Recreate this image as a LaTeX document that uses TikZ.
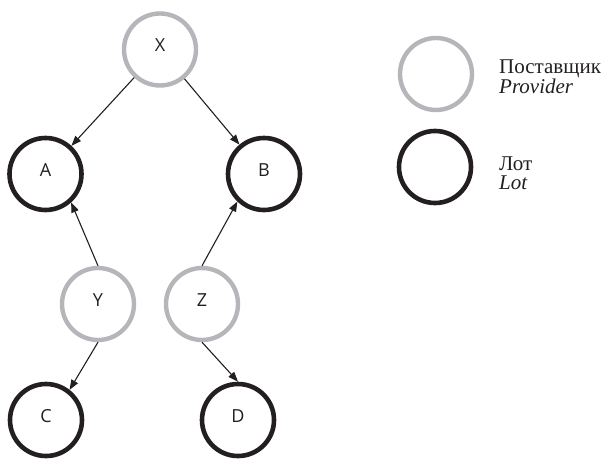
\documentclass[tikz,border=0pt]{standalone}
\usepackage{fontspec}
\setmainfont{Liberation Serif}
\newfontfamily\lblfont{Open Sans}
\usetikzlibrary{arrows.meta}
\definecolor{ringgray}{RGB}{180,182,186}
\definecolor{ringblack}{RGB}{35,31,32}
\begin{document}
\begin{tikzpicture}[x=1pt,y=1pt,
  prov/.style={circle,draw=ringgray,line width=4.4pt,minimum size=72pt,inner sep=0pt},
  lotc/.style={circle,draw=ringblack,line width=4.6pt,minimum size=72pt,inner sep=0pt},
  lbl/.style={font=\lblfont\fontsize{18}{21}\selectfont,text=ringblack,yshift=4pt,inner sep=0pt},
  arr/.style={draw=ringblack,line width=1.1pt,-{Triangle[length=10pt,width=7.5pt]}},
  legtxt/.style={font=\fontsize{21}{24}\selectfont,text=ringblack,anchor=base west,inner sep=0pt}]
\useasboundingbox (0,0) rectangle (609,458);
\node[prov,label={[lbl]center:X}] (X) at (160,408.5) {};
\node[lotc,label={[lbl]center:A}] (A) at (45.5,284) {};
\node[lotc,label={[lbl]center:B}] (B) at (264,284) {};
\node[prov,label={[lbl]center:Y}] (Y) at (98,154) {};
\node[prov,label={[lbl]center:Z}] (Z) at (202,154) {};
\node[lotc,label={[lbl]center:C}] (C) at (46,38) {};
\node[lotc,label={[lbl]center:D}] (D) at (238,38) {};
\draw[arr] (X) -- (A);
\draw[arr] (X) -- (B);
\draw[arr] (Y.north) -- (A.-48);
\draw[arr] (Z.north) -- (B.-134);
\draw[arr] (Y.south) -- (C.52);
\draw[arr] (Z.south) -- (D.north);
\node[prov] (LP) at (436,384) {};
\node[lotc] (LL) at (435,291) {};
\node[legtxt] (t1) at (499,384) {Поставщик};
\node[legtxt] (t2) at (499,364.5) {\itshape Provider};
\node[legtxt] (t3) at (499,287.5) {Лот};
\node[legtxt] (t4) at (499,268) {\itshape Lot};
\end{tikzpicture}
\end{document}
